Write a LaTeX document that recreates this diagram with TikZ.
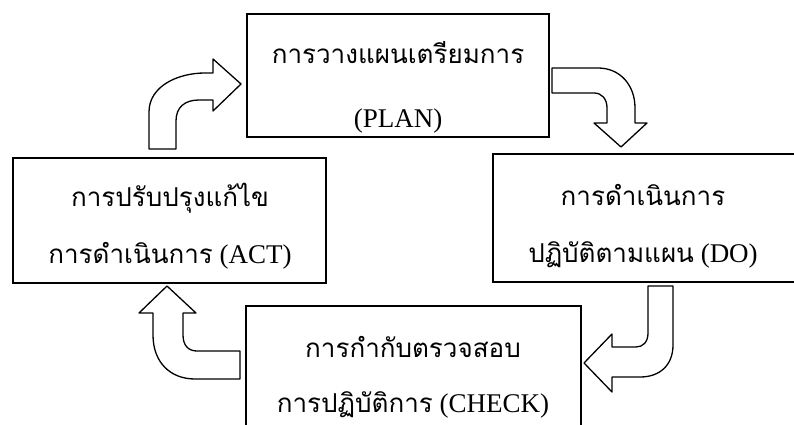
\documentclass[tikz,border=0pt]{standalone}
\usepackage{fontspec}
\setmainfont{Liberation Serif}
\newfontfamily\thaifont[Script=Thai]{Loma}
\newcommand{\thtext}[1]{{\thaifont\fontsize{26}{30}\selectfont #1}}
\begin{document}
\begin{tikzpicture}[x=1pt,y=-1pt]
\tikzset{
  boxframe/.style={draw=black, line width=1.6pt, fill=white},
  blockarrow/.style={draw=black, line width=1.3pt, fill=white, line join=round},
  label/.style={anchor=base, inner sep=0pt, font=\fontsize{27}{30}\selectfont}
}
\useasboundingbox (0,0) rectangle (794,425);
\fill[white] (0,0) rectangle (794,425);
% boxes
\draw[boxframe] (247,14) rectangle (549,137);
\draw[boxframe] (493,154) rectangle (800,282);
\draw[boxframe] (13,158) rectangle (326,283);
\draw[boxframe] (246,306) rectangle (581,432);
% texts
\node[label] (p1) at (398,64) {\thtext{การวางแผนเตรียมการ}};
\node[label] (p2) at (398,127) {(PLAN)};
\node[label] (d1) at (643,205) {\thtext{การดำเนินการ}};
\node[label] (d2) at (643,262) {\thtext{ปฏิบัติตามแผน} (DO)};
\node[label] (a1) at (170,206) {\thtext{การปรับปรุงแก้ไข}};
\node[label] (a2) at (170,263) {\thtext{การดำเนินการ} (ACT)};
\node[label] (c1) at (413,357) {\thtext{การกำกับตรวจสอบ}};
\node[label] (c2) at (413,412) {\thtext{การปฏิบัติการ} (CHECK)};
% arrows
\draw[blockarrow] (149,149) -- (149,112) .. controls (149,86) and (178,73) .. (205,73)
  -- (213,73) -- (213,59) -- (241,84) -- (213,111) -- (213,100) -- (199,100)
  .. controls (185,100) and (176,107) .. (176,121) -- (176,149) -- cycle;
\draw[blockarrow] (552,68) -- (598,68) .. controls (620,68) and (635,85) .. (635,108)
  -- (635,123) -- (647,123) -- (621,147) -- (594,123) -- (607,123) -- (607,108)
  .. controls (607,99) and (602,93) .. (594,93) -- (552,93) -- cycle;
\draw[blockarrow] (648,286) -- (673,286) -- (673,345) .. controls (673,365) and (660,377) .. (640,377)
  -- (612,377) -- (612,392) -- (584,363) -- (612,334) -- (612,347) -- (636,347)
  .. controls (643,347) and (648,342) .. (648,333) -- cycle;
\draw[blockarrow] (240,351) -- (240,379) -- (195,379) .. controls (170,379) and (153,362) .. (153,335)
  -- (153,313) -- (139,313) -- (167,286) -- (196,313) -- (183,313) -- (183,335)
  .. controls (183,345) and (188,351) .. (197,351) -- cycle;
\end{tikzpicture}
\end{document}
